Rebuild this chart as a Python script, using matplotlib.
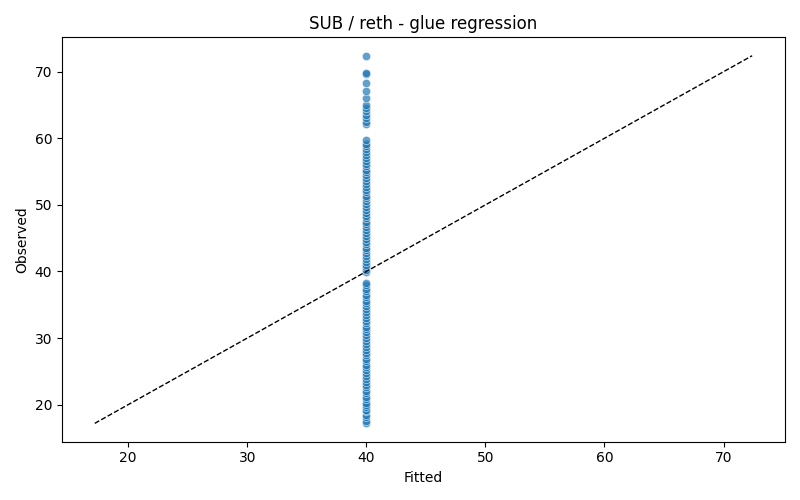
import matplotlib
matplotlib.use("Agg")
import matplotlib.pyplot as plt
import seaborn as sns
import numpy as np

observed = [
    17.2, 17.6, 18.1, 18.5, 19.0, 19.2, 19.7, 20.0, 20.3, 20.8,
    21.2, 21.7, 22.1, 22.6, 23.0, 23.4, 23.9, 24.3, 24.8, 25.2,
    25.6, 26.0, 26.5, 26.9, 27.4, 27.8, 28.2, 28.7, 29.1, 29.6,
    30.0, 30.4, 30.9, 31.3, 31.7, 32.2, 32.6, 33.0, 33.5, 33.9,
    34.3, 34.8, 35.2, 35.6, 36.1, 36.5, 37.0, 37.4, 37.9, 38.3,
    39.9, 40.2, 40.6, 41.0, 41.5, 41.9, 42.3, 42.8, 43.2, 43.6,
    44.1, 44.5, 44.9, 45.4, 45.8, 46.2, 46.7, 47.1, 47.5, 48.0,
    48.4, 48.8, 49.3, 49.7, 50.1, 50.6, 51.0, 51.4, 51.9, 52.3,
    52.7, 53.2, 53.6, 54.0, 54.5, 54.9, 55.3, 55.8, 56.2, 56.6,
    57.1, 57.5, 57.9, 58.4, 58.8, 59.2, 59.7,
    62.1, 62.5, 63.0, 63.5, 64.1, 64.6, 65.0, 66.1, 67.1, 68.3,
    69.6, 69.8, 72.4,
]
fitted = [40.0] * len(observed)

fig, ax = plt.subplots(figsize=(8, 5), dpi=100)
sns.scatterplot(x=fitted, y=observed, alpha=0.7, ax=ax)

lo = min(min(fitted), min(observed))
hi = max(max(fitted), max(observed))
ax.plot([lo, hi], [lo, hi], color="black", linestyle="--", linewidth=1)

ax.set_title("SUB / reth - glue regression")
ax.set_xlabel("Fitted")
ax.set_ylabel("Observed")

plt.tight_layout()
plt.savefig("out.png")
